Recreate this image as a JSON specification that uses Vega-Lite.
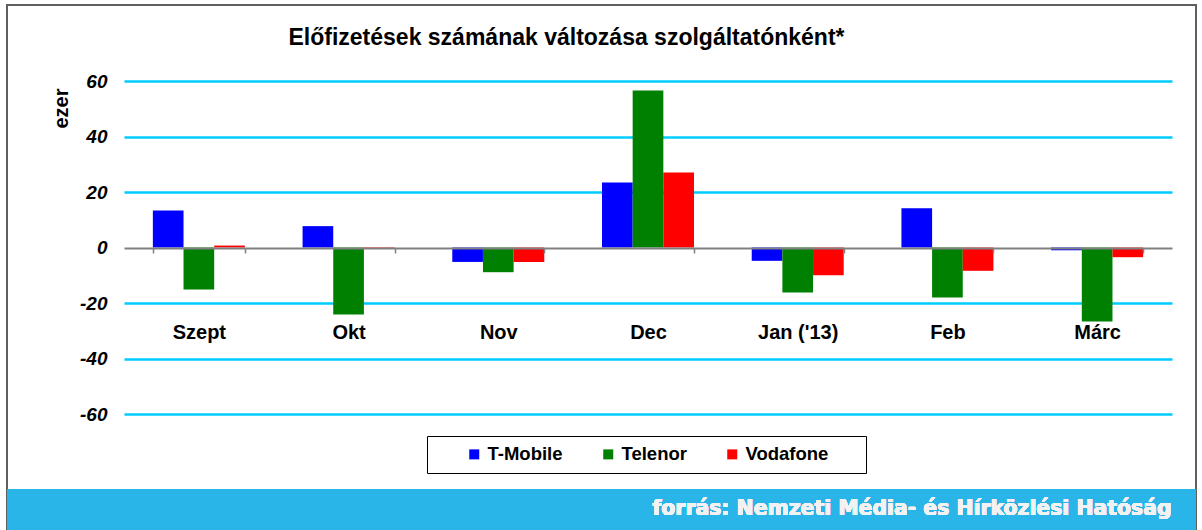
{
  "$schema": "https://vega.github.io/schema/vega-lite/v6.json",
  "width": 1189,
  "height": 525,
  "autosize": {"type": "none"},
  "padding": {"left": 7, "top": 5, "right": 6, "bottom": 0},
  "background": "white",
  "config": {
    "font": "Liberation Sans",
    "view": {"stroke": "#5f5f5f", "strokeWidth": 2, "fill": "white"}
  },
  "title": {
    "text": "Előfizetések számának változása szolgáltatónként*",
    "fontSize": 23,
    "fontWeight": "bold",
    "color": "black",
    "anchor": "middle",
    "frame": "group",
    "offset": 0,
    "dx": -35,
    "dy": 45
  },
  "data": {
    "values": [
      {"month": "Szept", "provider": "T-Mobile", "value": 13.3},
      {"month": "Szept", "provider": "Telenor", "value": -15.1},
      {"month": "Szept", "provider": "Vodafone", "value": 0.7},
      {"month": "Okt", "provider": "T-Mobile", "value": 7.7},
      {"month": "Okt", "provider": "Telenor", "value": -24.1},
      {"month": "Okt", "provider": "Vodafone", "value": -0.5},
      {"month": "Nov", "provider": "T-Mobile", "value": -5.2},
      {"month": "Nov", "provider": "Telenor", "value": -8.9},
      {"month": "Nov", "provider": "Vodafone", "value": -5.2},
      {"month": "Dec", "provider": "T-Mobile", "value": 23.4},
      {"month": "Dec", "provider": "Telenor", "value": 56.6},
      {"month": "Dec", "provider": "Vodafone", "value": 27.0},
      {"month": "Jan ('13)", "provider": "T-Mobile", "value": -4.8},
      {"month": "Jan ('13)", "provider": "Telenor", "value": -16.2},
      {"month": "Jan ('13)", "provider": "Vodafone", "value": -10.0},
      {"month": "Feb", "provider": "T-Mobile", "value": 14.1},
      {"month": "Feb", "provider": "Telenor", "value": -18.0},
      {"month": "Feb", "provider": "Vodafone", "value": -8.4},
      {"month": "Márc", "provider": "T-Mobile", "value": -1.0},
      {"month": "Márc", "provider": "Telenor", "value": -26.7},
      {"month": "Márc", "provider": "Vodafone", "value": -3.5}
    ]
  },
  "resolve": {"axis": {"y": "independent"}},
  "layer": [
    {
      "mark": {"type": "bar"},
      "encoding": {
        "x": {
          "field": "month",
          "type": "nominal",
          "sort": ["Szept", "Okt", "Nov", "Dec", "Jan ('13)", "Feb", "Márc"],
          "scale": {"range": [117, 1165], "paddingInner": 0.3855, "paddingOuter": 0.19275},
          "axis": {
            "title": null,
            "orient": "bottom",
            "offset": -282,
            "domainColor": "#808080",
            "domainWidth": 2,
            "ticks": true,
            "tickBand": "extent",
            "tickColor": "#808080",
            "tickWidth": 1.5,
            "tickSize": 5,
            "labelPadding": 69,
            "labelAngle": 0,
            "labelFontSize": 20,
            "labelFontWeight": "bold",
            "labelColor": "black",
            "grid": false,
            "zindex": 1
          }
        },
        "xOffset": {"field": "provider", "type": "nominal", "scale": {"paddingInner": 0}},
        "y": {
          "field": "value",
          "type": "quantitative",
          "scale": {"domain": [-60, 60], "range": [409, 76], "nice": false, "zero": false},
          "axis": {
            "title": "ezer",
            "titleFontSize": 20,
            "titleFontWeight": "bold",
            "titleColor": "black",
            "titleX": -63,
            "titleY": 103,
            "titleAlign": "center",
            "titleBaseline": "middle",
            "titleAngle": -90,
            "orient": "left",
            "offset": -117,
            "values": [-60, -40, -20, 0, 20, 40, 60],
            "labelExpr": "'' + datum.value",
            "domain": false,
            "ticks": false,
            "tickSize": 0,
            "labelPadding": 17,
            "labelFontSize": 19,
            "labelFontWeight": "bold",
            "labelFontStyle": "italic",
            "labelColor": "black",
            "grid": true,
            "gridColor": {"condition": {"test": "datum.value === 0", "value": "transparent"}, "value": "#00ccff"},
            "gridWidth": 2.5
          }
        },
        "color": {
          "field": "provider",
          "type": "nominal",
          "scale": {"domain": ["T-Mobile", "Telenor", "Vodafone"], "range": ["#0000ff", "#008000", "#ff0000"]},
          "legend": {
            "title": " ",
            "titleOrient": "left",
            "titlePadding": 29,
            "titleFontSize": 18,
            "labelExpr": "datum.label === 'Vodafone' ? 'Vodafone\u2800\u2800' : datum.label",
            "orient": "none",
            "direction": "horizontal",
            "legendX": 420,
            "legendY": 431,
            "padding": 9,
            "strokeColor": "black",
            "fillColor": "white",
            "cornerRadius": 0,
            "symbolType": "square",
            "symbolSize": 100,
            "symbolStrokeWidth": 0,
            "symbolOpacity": 1,
            "labelFontSize": 18.5,
            "labelFontWeight": "bold",
            "labelColor": "black",
            "labelOffset": 4,
            "columnPadding": 36
          }
        }
      }
    },
    {
      "mark": {"type": "rect", "color": "#29b5e8"},
      "encoding": {
        "y": {"datum": -87.2, "type": "quantitative", "axis": null},
        "y2": {"datum": -102}
      }
    },
    {
      "mark": {"type": "text", "align": "right", "baseline": "middle", "dx": 570, "font": "DejaVu Sans", "fontWeight": "bold", "fontSize": 20.4, "color": "#f2f2f2"},
      "encoding": {
        "y": {"datum": -94.4, "type": "quantitative", "axis": null},
        "text": {"value": "forrás: Nemzeti Média- és Hírközlési Hatóság"}
      }
    }
  ]
}
